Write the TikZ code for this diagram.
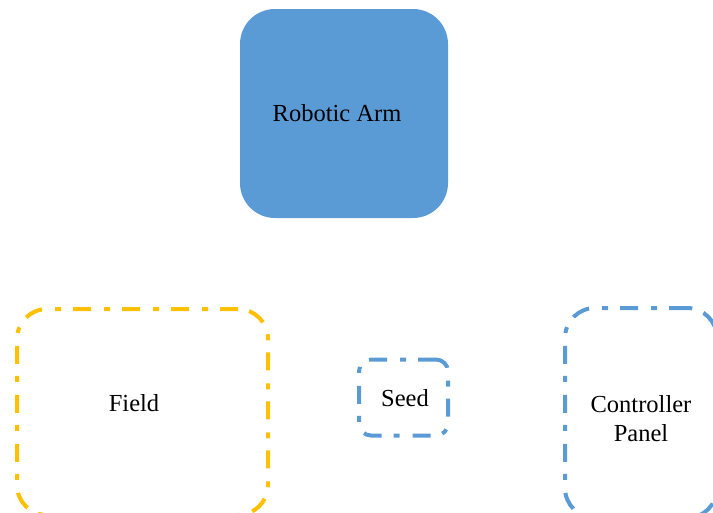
\documentclass[tikz,border=0pt]{standalone}
\usepackage{fontspec}
\setmainfont{Liberation Serif}
\definecolor{armblue}{HTML}{5B9BD5}
\definecolor{fieldgold}{HTML}{FFC000}
\tikzset{
  x=1pt, y=-1pt,
  every node/.style={font=\rmfamily\fontsize{24.5}{29}\selectfont, text=black, inner sep=0pt},
  solidbox/.style={fill=armblue, draw=none, rounded corners=35pt},
  dashdotbox/.style={line width=4pt, rounded corners=#1,
    dash pattern=on 18pt off 12pt on 6pt off 13pt},
}
\begin{document}
\begin{tikzpicture}
\useasboundingbox (0,0) rectangle (713,512);
% top unit
\node[solidbox, minimum width=208pt, minimum height=209pt,
      label={[shift={(-7,0)}]center:Robotic Arm}] (arm) at (344,113.5) {};
% work area
\node[dashdotbox=30pt, draw=fieldgold, minimum width=251pt, minimum height=206pt,
      label={[shift={(-8.5,-9)}]center:Field}] (field) at (142.5,412) {};
% item handled
\node[dashdotbox=12pt, draw=armblue, minimum width=89pt, minimum height=76pt,
      label={[shift={(1.5,0.5)}]center:Seed}] (seed) at (403.5,397.5) {};
% operator station
\node[dashdotbox=30pt, draw=armblue, minimum width=152pt, minimum height=210pt,
      label={[shift={(0,5.5)},align=center]center:Controller\\Panel}] (panel) at (641,413) {};
\end{tikzpicture}
\end{document}
